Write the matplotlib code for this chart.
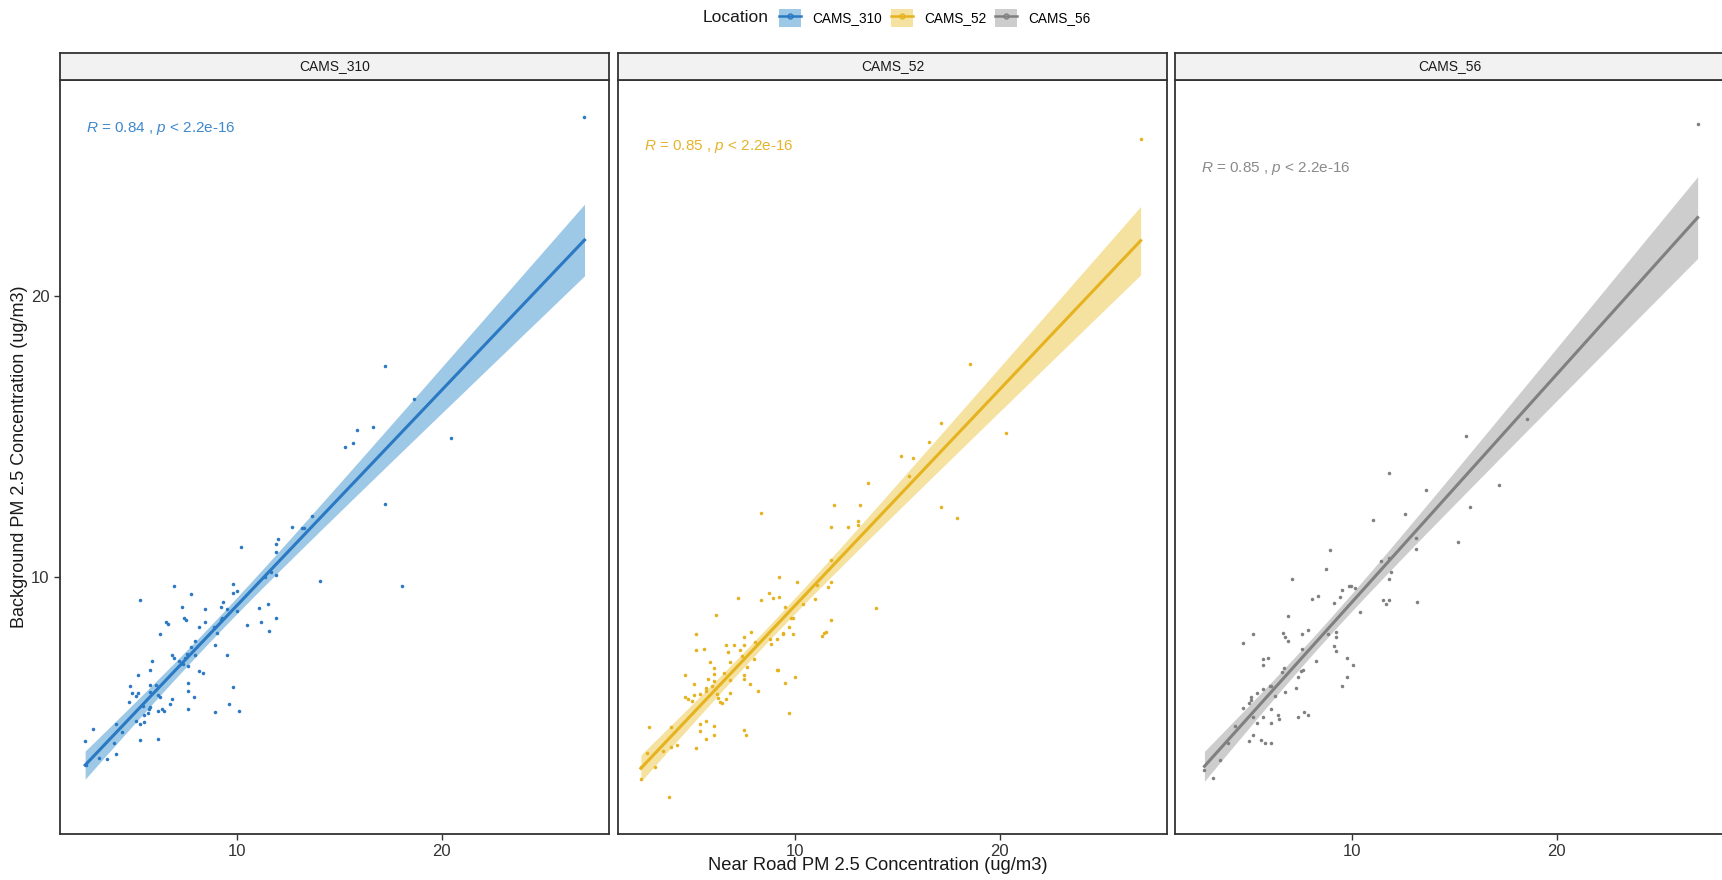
import numpy as np
import matplotlib
matplotlib.use("Agg")
import matplotlib.pyplot as plt
from matplotlib.patches import Patch
from matplotlib.lines import Line2D
from matplotlib.legend_handler import HandlerTuple

plt.rcParams['font.family'] = ['Liberation Sans', 'DejaVu Sans']
plt.rcParams['mathtext.fontset'] = 'custom'
plt.rcParams['mathtext.rm'] = 'Liberation Sans'
plt.rcParams['mathtext.it'] = 'Liberation Sans:italic'

# near road (x) vs background (y) PM2.5, one list pair per location
locations = ["CAMS_310", "CAMS_52", "CAMS_56"]

x_310 = [17.24, 13.68, 12.67, 13.19, 13.26, 10.19, 11.98, 11.88, 11.88, 14.05, 18.05, 11.88, 11.66, 11.35,
         9.79, 9.79, 9.99, 6.92, 7.72, 5.22, 7.31, 8.41, 9.30, 9.21, 9.50, 9.97, 11.08, 11.48, 6.51, 6.60,
         7.39, 7.51, 8.41, 8.11, 9.27, 9.22, 8.86, 9.01, 10.50, 11.18, 11.88, 11.57, 6.22, 7.92, 7.72, 8.90,
         6.81, 6.92, 7.53, 7.46, 7.92, 7.13, 7.36, 7.61, 9.50, 5.83, 5.73, 8.11, 8.31, 5.13, 4.73, 5.73,
         6.04, 4.83, 5.13, 5.03, 5.73, 6.12, 6.22, 4.72, 7.61, 7.61, 7.90, 9.79, 6.81, 6.73, 5.40, 5.73,
         5.70, 6.11, 6.32, 6.42, 7.61, 8.90, 9.60, 10.09, 5.62, 5.42, 5.03, 5.22, 5.42, 4.05, 4.34, 2.94,
         2.55, 3.95, 5.22, 6.12, 3.25, 3.64, 4.05, 2.61, 17.25, 18.66, 15.85, 16.65, 15.66, 15.26, 20.44,
         27.00]
y_310 = [12.62, 12.19, 11.80, 11.75, 11.75, 11.09, 11.38, 11.19, 10.92, 9.89, 9.70, 10.09, 10.21, 10.00,
         9.77, 9.45, 9.52, 9.69, 9.41, 9.21, 8.95, 8.89, 9.12, 8.95, 8.88, 8.79, 8.92, 9.06, 8.43, 8.36,
         8.57, 8.48, 8.41, 8.23, 8.55, 8.49, 8.22, 8.02, 8.31, 8.41, 8.56, 8.10, 7.97, 7.73, 7.54, 7.58,
         7.23, 7.13, 7.28, 7.14, 7.23, 7.04, 6.91, 6.85, 7.23, 7.01, 6.71, 6.68, 6.60, 6.53, 6.14, 6.18,
         6.18, 5.90, 5.90, 5.79, 5.92, 5.82, 5.75, 5.56, 6.25, 5.97, 5.75, 6.09, 5.67, 5.50, 5.43, 5.38,
         5.31, 5.26, 5.31, 5.24, 5.31, 5.22, 5.48, 5.25, 5.17, 5.10, 4.90, 4.78, 4.86, 4.80, 4.49, 4.59,
         4.18, 4.10, 4.23, 4.26, 3.56, 3.54, 3.70, 3.33, 17.54, 16.34, 15.26, 15.35, 14.80, 14.65, 14.96,
         26.40]

x_52 = [11.88, 13.17, 17.13, 8.30, 17.93, 11.76, 12.56, 13.05, 13.05, 11.76, 9.18, 10.08, 11.76, 11.58,
        11.06, 8.69, 8.89, 9.20, 7.19, 8.30, 10.98, 10.38, 9.49, 13.95, 6.10, 9.79, 9.87, 9.69, 11.76,
        7.81, 7.50, 8.01, 8.78, 9.10, 8.79, 9.40, 9.38, 9.89, 11.29, 11.39, 11.49, 5.12, 5.12, 5.51, 6.59,
        7.01, 7.50, 6.70, 7.31, 5.81, 6.80, 7.39, 7.99, 7.62, 6.00, 6.00, 6.51, 4.61, 5.71, 6.02, 6.80,
        7.50, 7.50, 5.02, 5.61, 5.61, 5.90, 7.80, 9.09, 9.15, 9.48, 9.98, 8.19, 5.32, 5.02, 4.61, 4.73,
        4.92, 6.16, 6.21, 6.33, 6.41, 6.80, 6.60, 9.69, 2.83, 3.93, 5.32, 5.61, 6.02, 5.32, 6.02, 5.61,
        7.50, 7.60, 4.22, 3.93, 5.12, 3.54, 2.74, 3.13, 2.44, 2.44, 3.83, 18.54, 17.15, 20.33, 16.55,
        15.16, 15.74, 15.55, 13.56, 26.91]
y_52 = [12.57, 12.57, 12.49, 12.31, 12.11, 11.81, 11.79, 12.02, 11.85, 10.62, 10.01, 9.83, 9.85, 9.66,
        9.74, 9.44, 9.28, 9.32, 9.28, 9.18, 9.23, 9.06, 8.96, 8.92, 8.68, 8.56, 8.55, 8.23, 8.49,
        8.06, 7.87, 7.71, 7.80, 7.80, 7.62, 8.04, 7.97, 7.99, 7.93, 8.02, 8.05, 7.99, 7.43, 7.46, 7.58,
        7.61, 7.61, 7.35, 7.42, 6.99, 6.99, 7.20, 7.11, 6.81, 6.79, 6.58, 6.59, 6.54, 6.38, 6.32, 6.35,
        6.52, 6.37, 6.19, 6.08, 5.95, 6.12, 6.20, 6.70, 6.71, 6.25, 6.44, 5.97, 5.84, 5.80, 5.76, 5.69,
        5.61, 5.84, 5.71, 5.55, 5.52, 5.87, 5.68, 5.19, 4.69, 4.66, 4.80, 4.88, 4.72, 4.52, 4.39, 4.24,
        4.56, 4.39, 4.04, 3.98, 3.93, 3.83, 3.75, 3.27, 3.25, 2.83, 2.17, 17.60, 15.51, 15.15, 14.81,
        14.31, 14.24, 13.62, 13.37, 25.59]

x_56 = [15.58, 11.79, 13.59, 17.16, 15.77, 12.59, 11.01, 15.19, 13.10, 13.10, 8.92, 8.72, 11.40, 11.79,
        11.89, 11.79, 7.04, 9.83, 9.93, 10.12, 9.52, 9.42, 9.11, 8.02, 8.33, 10.40, 11.50, 11.63, 11.79,
        13.18, 6.84, 5.15, 6.63, 6.73, 6.84, 7.53, 7.82, 9.21, 9.21, 8.82, 4.66, 7.53, 9.11, 9.21, 5.65,
        5.85, 5.65, 6.65, 6.55, 7.50, 7.58, 8.23, 9.73, 10.03, 7.33, 9.72, 9.52, 5.99, 6.04, 5.34, 5.65,
        6.22, 5.06, 5.03, 4.93, 4.66, 6.04, 7.22, 6.73, 5.15, 5.65, 6.34, 6.43, 6.04, 5.34, 7.63, 7.82,
        7.33, 4.25, 5.15, 3.91, 4.93, 5.54, 5.73, 6.04, 3.53, 2.76, 3.17, 26.91, 18.56]
y_56 = [15.05, 13.72, 13.11, 13.30, 12.49, 12.24, 12.03, 11.25, 11.41, 11.01, 10.99, 10.31, 10.58, 10.68,
        10.21, 9.96, 9.94, 9.71, 9.69, 9.64, 9.54, 9.32, 9.09, 9.24, 9.35, 8.76, 9.18, 9.06, 9.18,
        9.12, 8.61, 8.00, 8.01, 7.88, 7.72, 7.98, 8.13, 8.05, 7.89, 7.99, 7.66, 7.47, 7.55, 7.38, 7.10,
        7.14, 6.89, 6.79, 6.65, 6.68, 6.69, 7.01, 7.14, 6.90, 6.44, 6.44, 6.14, 6.14, 6.12, 5.88, 6.02,
        5.78, 5.74, 5.64, 5.52, 5.36, 5.33, 6.07, 5.93, 5.02, 5.05, 5.10, 4.95, 4.83, 4.83, 5.20, 5.12,
        5.02, 4.72, 4.38, 4.12, 4.17, 4.23, 4.12, 4.12, 3.52, 3.13, 2.88, 26.14, 15.63]

cor_labels = ["0.84", "0.85", "0.85"]
p_label = "2.2e-16"

line_cols = ["#2B79C3", "#E5B31F", "#808080"]
band_cols = ["#9DC8E6", "#F6E2A0", "#CDCDCD"]
text_cols = ["#3E88CE", "#E5B42A", "#8A8A8A"]

series = [(x_310, y_310), (x_52, y_52), (x_56, y_56)]


def lm_band(x, y, t=1.984):
    # ordinary least squares line with 95% confidence band of the mean
    x = np.asarray(x)
    y = np.asarray(y)
    n = len(x)
    b, a = np.polyfit(x, y, 1)
    xs = np.linspace(x.min(), x.max(), 100)
    yh = a + b * xs
    s = np.sqrt(np.sum((y - (a + b * x)) ** 2) / (n - 2))
    sxx = np.sum((x - x.mean()) ** 2)
    se = s * np.sqrt(1.0 / n + (xs - x.mean()) ** 2 / sxx)
    return xs, yh, yh - t * se, yh + t * se


W, H = 1722, 880
fig = plt.figure(figsize=(W / 100, H / 100), dpi=100)


def box(l, t, r, b):
    return [l / W, 1 - b / H, (r - l) / W, (b - t) / H]


lefts = [60, 618, 1175]
pw = 549
top, bottom, strip_top = 80, 834, 53
label_pos = [0.936, 0.912, 0.883]

for i, (loc, (xv, yv)) in enumerate(zip(locations, series)):
    l = lefts[i]
    ax = fig.add_axes(box(l, top, l + pw, bottom))
    xs, yh, lo, hi = lm_band(xv, yv)
    ax.fill_between(xs, lo, hi, color=band_cols[i], lw=0, zorder=1)
    ax.plot(xs, yh, color=line_cols[i], lw=2.2, zorder=2)
    ax.scatter(xv, yv, s=6.5, color=line_cols[i], lw=0, zorder=3)
    ax.set_xlim(1.32, 28.2)
    ax.set_ylim(0.87, 27.7)
    ax.set_xticks([10, 20])
    ax.set_yticks([10, 20])
    for sp in ax.spines.values():
        sp.set_color("#333333")
        sp.set_linewidth(1.3)
    ax.tick_params(length=4, width=1, color="#333333", labelsize=12, labelcolor="#333333")
    if i > 0:
        ax.tick_params(axis="y", left=False, labelleft=False)
    ax.text(0.047, label_pos[i], r"$\mathit{R}$ = " + cor_labels[i] + r" , $\mathit{p}$ < " + p_label,
            transform=ax.transAxes, color=text_cols[i], fontsize=11, ha="left", va="center")

    # facet strip
    sx = fig.add_axes(box(l, strip_top, l + pw, top))
    sx.set_facecolor("#F2F2F2")
    sx.set_xticks([])
    sx.set_yticks([])
    for sp in sx.spines.values():
        sp.set_color("#333333")
        sp.set_linewidth(1.3)
    sx.text(0.5, 0.5, loc, ha="center", va="center", fontsize=10, color="#1A1A1A")

fig.text(878 / W, 1 - 865 / H, "Near Road PM 2.5 Concentration (ug/m3)", ha="center", va="center",
         fontsize=13.2, color="#1A1A1A")
fig.text(20 / W, 1 - 457 / H, "Background PM 2.5 Concentration (ug/m3)", ha="center", va="center",
         rotation=90, fontsize=13, color="#1A1A1A")

# legend across the top
fig.text(703 / W, 1 - 18 / H, "Location", ha="left", va="center", fontsize=12.5, color="#1A1A1A")
handles = []
for i in range(3):
    handles.append((Patch(facecolor=band_cols[i], edgecolor="none"),
                    Line2D([], [], color=line_cols[i], lw=1.8, marker="o", markersize=3.5,
                           markerfacecolor="none", markeredgecolor=line_cols[i])))
fig.legend(handles, locations, handler_map={tuple: HandlerTuple(ndivide=1)}, ncol=3, frameon=False,
           loc="center left", bbox_to_anchor=(772 / W, 1 - 18 / H), fontsize=9.8,
           handlelength=1.65, handleheight=1.65, handletextpad=0.8, columnspacing=0.65, borderpad=0)

fig.savefig("out.png", dpi=100)
